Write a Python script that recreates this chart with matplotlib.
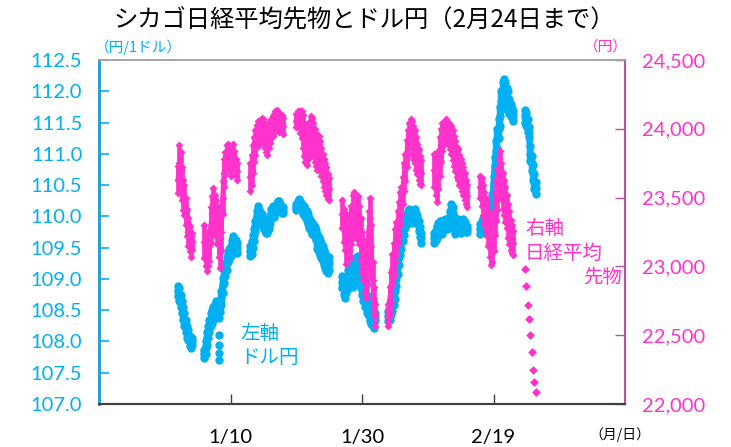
import numpy as np
import matplotlib
matplotlib.use("Agg")
import matplotlib.pyplot as plt
from matplotlib.ticker import FuncFormatter

plt.rcParams['font.family'] = ['Noto Sans CJK JP', 'DejaVu Sans']

# ---- data (x = time index, 5 steps per day; sessions separated by weekends) ----
# each step: typical level and half of the intrastep range
session_start = [60, 80, 115, 150, 185, 220, 255, 290, 324]

usd_w1 = [108.8, 108.75, 108.65, 108.55, 108.45, 108.35, 108.25, 108.15, 108.1, 108.0, 107.95, 108.0]
usd_w2 = [107.8, 107.9, 108.05, 108.15, 108.25, 108.35, 108.4, 108.45, 108.5, 108.55, 108.5, 108.45, 108.55,
          108.7, 108.9, 109.05, 109.15, 109.25, 109.35, 109.4, 109.45, 109.55, 109.6, 109.6, 109.55, 109.5]
usd_w3 = [109.45, 109.5, 109.6, 109.7, 109.85, 110.0, 110.1, 110.05, 110.0, 109.95, 109.9, 109.85, 109.8,
          109.8, 109.85, 109.95, 110.05, 110.1, 110.05, 110.1, 110.15, 110.2, 110.2, 110.15, 110.1, 110.1]
usd_w4 = [110.15, 110.2, 110.22, 110.2, 110.15, 110.1, 110.1, 110.05, 110.0, 109.95, 109.9, 109.85, 109.8,
          109.8, 109.75, 109.7, 109.6, 109.55, 109.5, 109.45, 109.4, 109.35, 109.3, 109.25, 109.2, 109.25]
usd_w5 = [108.95, 108.85, 108.8, 108.9, 109.0, 109.0, 109.05, 109.1, 109.05, 109.1, 109.15, 109.2, 109.25,
          109.2, 109.0, 108.9, 108.8, 108.7, 108.75, 108.6, 108.55, 108.45, 108.4, 108.35, 108.3, 108.4]
usd_w6 = [108.4, 108.45, 108.55, 108.6, 108.7, 108.8, 109.0, 109.2, 109.35, 109.5, 109.6, 109.7, 109.8,
          109.9, 109.95, 110.0, 110.05, 110.0, 109.95, 110.0, 110.05, 110.0, 109.95, 109.85, 109.75, 109.65]
usd_w7 = [109.65, 109.7, 109.75, 109.8, 109.85, 109.85, 109.8, 109.85, 109.9, 109.85, 109.85, 109.9, 110.0,
          110.1, 110.05, 109.9, 109.8, 109.85, 109.9, 109.85, 109.8, 109.85, 109.9, 109.85, 109.8, 109.8]
usd_w8 = [109.8, 109.85, 109.9, 109.9, 109.85, 109.8, 109.85, 109.9, 110.0, 110.2, 110.5, 110.8, 111.05,
          111.25, 111.4, 111.6, 111.85, 112.0, 112.05, 112.0, 111.9, 111.85, 111.75, 111.7, 111.65, 111.6]
usd_w9 = [111.6, 111.55, 111.45, 111.35, 111.0, 110.85, 110.7, 110.55, 110.45]

usd_r1 = [0.08, 0.1, 0.1, 0.1, 0.1, 0.1, 0.1, 0.1, 0.08, 0.08, 0.06, 0.05]
usd_r2 = [0.06, 0.1, 0.1, 0.1, 0.1, 0.1, 0.1, 0.1, 0.1, 0.1, 0.08, 0.08, 0.08,
          0.1, 0.12, 0.12, 0.1, 0.1, 0.08, 0.08, 0.08, 0.08, 0.08, 0.06, 0.08, 0.08]
usd_r3 = [0.08, 0.1, 0.1, 0.1, 0.08, 0.08, 0.06, 0.06, 0.06, 0.08, 0.08, 0.08, 0.06,
          0.06, 0.06, 0.06, 0.06, 0.06, 0.06, 0.06, 0.06, 0.05, 0.05, 0.05, 0.05, 0.05]
usd_r4 = [0.05, 0.05, 0.05, 0.05, 0.05, 0.06, 0.06, 0.06, 0.08, 0.08, 0.08, 0.08, 0.08,
          0.08, 0.08, 0.08, 0.12, 0.12, 0.12, 0.12, 0.12, 0.12, 0.12, 0.12, 0.1, 0.1]
usd_r5 = [0.1, 0.1, 0.1, 0.12, 0.15, 0.15, 0.15, 0.15, 0.18, 0.18, 0.18, 0.15, 0.12,
          0.12, 0.15, 0.15, 0.15, 0.15, 0.15, 0.15, 0.15, 0.12, 0.12, 0.1, 0.08, 0.06]
usd_r6 = [0.08, 0.1, 0.12, 0.12, 0.12, 0.12, 0.12, 0.12, 0.12, 0.12, 0.12, 0.1, 0.1,
          0.08, 0.08, 0.08, 0.06, 0.06, 0.06, 0.06, 0.06, 0.06, 0.06, 0.08, 0.08, 0.08]
usd_r7 = [0.08, 0.08, 0.1, 0.1, 0.08, 0.08, 0.08, 0.06, 0.06, 0.06, 0.06, 0.08, 0.08,
          0.1, 0.1, 0.1, 0.08, 0.08, 0.06, 0.06, 0.06, 0.06, 0.06, 0.06, 0.05, 0.05]
usd_r8 = [0.08, 0.08, 0.08, 0.08, 0.08, 0.08, 0.08, 0.08, 0.12, 0.15, 0.15, 0.15, 0.15,
          0.15, 0.15, 0.15, 0.15, 0.15, 0.15, 0.15, 0.15, 0.15, 0.12, 0.1, 0.08, 0.08]
usd_r9 = [0.1, 0.1, 0.1, 0.08, 0.12, 0.12, 0.12, 0.12, 0.1]

usd_spike_x = 91
usd_spike = [108.1, 107.95, 107.82, 107.7]

nk_w1 = [23630, 23750, 23700, 23600, 23520, 23480, 23400, 23320, 23250, 23200, 23150, 23180]
nk_w2 = [23180, 23120, 23080, 23100, 23150, 23300, 23380, 23450, 23400, 23350, 23300, 23200, 23100,
         23250, 23500, 23680, 23750, 23800, 23820, 23780, 23730, 23780, 23820, 23780, 23720, 23690]
nk_w3 = [23650, 23700, 23780, 23850, 23900, 23950, 23980, 23960, 23980, 24000, 23990, 23950, 23920,
         23900, 23940, 23980, 24000, 24020, 24040, 24060, 24080, 24060, 24040, 24050, 24040, 24020]
nk_w4 = [24060, 24080, 24070, 24050, 24030, 23980, 23920, 23880, 23850, 23880, 23950, 23980, 23960,
         23920, 23880, 23850, 23820, 23840, 23800, 23760, 23720, 23680, 23650, 23620, 23580, 23560]
nk_w5 = [23380, 23300, 23250, 23150, 23200, 23250, 23200, 23300, 23380, 23400, 23350, 23330, 23380,
         23300, 23200, 23100, 23050, 22950, 22900, 23000, 23250, 23350, 23150, 22900, 22750, 22650]
nk_w6 = [22650, 22750, 22850, 22980, 23050, 23150, 23200, 23280, 23350, 23420, 23480, 23550, 23650,
         23720, 23820, 23900, 23960, 23990, 23960, 23900, 23870, 23820, 23780, 23740, 23700, 23680]
nk_w7 = [23700, 23650, 23600, 23700, 23800, 23880, 23940, 23960, 23980, 24000, 23980, 23960, 23940,
         23920, 23880, 23840, 23800, 23760, 23740, 23700, 23680, 23650, 23620, 23580, 23540, 23510]
nk_w8 = [23580, 23540, 23480, 23420, 23380, 23340, 23280, 23200, 23130, 23150, 23250, 23380, 23480,
         23560, 23640, 23700, 23620, 23550, 23500, 23450, 23400, 23330, 23280, 23230, 23200, 23170]
nk_w9 = [22980, 22860, 22720, 22620, 22500, 22380, 22250, 22160, 22090]

nk_r1 = [100, 130, 130, 120, 110, 110, 100, 100, 100, 90, 80, 60]
nk_r2 = [120, 120, 110, 100, 110, 130, 130, 120, 120, 130, 140, 130, 110,
         130, 120, 100, 80, 80, 70, 70, 70, 70, 70, 60, 60, 60]
nk_r3 = [100, 110, 100, 90, 90, 80, 80, 80, 80, 80, 80, 90, 90,
         90, 80, 80, 70, 70, 70, 70, 60, 60, 60, 60, 60, 60]
nk_r4 = [50, 50, 60, 80, 100, 120, 120, 120, 110, 100, 100, 110, 120,
         120, 120, 120, 120, 110, 110, 100, 100, 100, 100, 100, 90, 80]
nk_r5 = [100, 120, 130, 130, 130, 130, 140, 140, 140, 140, 140, 130, 130,
         140, 150, 150, 150, 140, 130, 130, 150, 150, 150, 130, 100, 80]
nk_r6 = [80, 100, 110, 110, 120, 120, 120, 120, 120, 120, 100, 100, 100,
         100, 100, 90, 80, 80, 100, 120, 120, 120, 110, 110, 100, 90]
nk_r7 = [120, 130, 130, 140, 140, 120, 100, 80, 80, 70, 70, 80, 90,
         100, 110, 110, 110, 110, 110, 110, 100, 100, 100, 100, 90, 80]
nk_r8 = [80, 100, 110, 120, 120, 120, 130, 130, 120, 120, 140, 150, 150,
         150, 140, 140, 130, 130, 130, 130, 120, 120, 120, 110, 100, 90]
nk_r9 = [0, 0, 0, 0, 0, 0, 0, 0, 0]

x_ticks = [100, 200, 300]
x_labels = ['1/10', '1/30', '2/19']

usd_weeks = [usd_w1, usd_w2, usd_w3, usd_w4, usd_w5, usd_w6, usd_w7, usd_w8, usd_w9]
usd_rngs = [usd_r1, usd_r2, usd_r3, usd_r4, usd_r5, usd_r6, usd_r7, usd_r8, usd_r9]
nk_weeks = [nk_w1, nk_w2, nk_w3, nk_w4, nk_w5, nk_w6, nk_w7, nk_w8, nk_w9]
nk_rngs = [nk_r1, nk_r2, nk_r3, nk_r4, nk_r5, nk_r6, nk_r7, nk_r8, nk_r9]

BLUE = '#00B0F0'
PINK = '#FF33CC'
NUM_FONT = ['Lato', 'DejaVu Sans']

fig = plt.figure(figsize=(7.31, 4.47), dpi=100)
ax = fig.add_axes([99 / 731, 43 / 447, 526 / 731, 344 / 447])
ax2 = ax.twinx()


def draw_series(a, starts, levels, ranges, color, marker, ms, lw, join):
    for s, vals, rng in zip(starts, levels, ranges):
        x = s + np.arange(len(vals))
        c = np.array(vals, dtype=float)
        r = np.array(rng, dtype=float)
        if join:
            a.plot(x, c, '-', color=color, lw=lw, solid_capstyle='round', solid_joinstyle='round')
            a.vlines(x, c - r, c + r, colors=color, linewidth=lw, capstyle='round')
        a.plot(x, c - r, marker, color=color, ms=ms, mec='none', ls='none')
        a.plot(x, c + r, marker, color=color, ms=ms, mec='none', ls='none')
        a.plot(x, c, marker, color=color, ms=ms, mec='none', ls='none')


draw_series(ax, session_start, usd_weeks, usd_rngs, BLUE, 'o', 6.0, 4.6, True)
ax.plot([usd_spike_x] * len(usd_spike), usd_spike, 'o', color=BLUE, ms=6.0, mec='none', ls='none')

draw_series(ax2, session_start[:-1], nk_weeks[:-1], nk_rngs[:-1], PINK, 'D', 4.4, 3.4, True)
draw_series(ax2, session_start[-1:], nk_weeks[-1:], nk_rngs[-1:], PINK, 'D', 4.4, 3.4, False)

ax.set_xlim(0, 400)
ax.set_ylim(107.0, 112.5)
ax.set_yticks(np.arange(107.0, 112.51, 0.5))
ax.yaxis.set_major_formatter(FuncFormatter(lambda v, p: f'{v:.1f}'))
ax2.set_ylim(22000, 24500)
ax2.set_yticks(np.arange(22000, 24501, 500))
ax2.yaxis.set_major_formatter(FuncFormatter(lambda v, p: f'{int(v):,}'))

ax.set_xticks(x_ticks)
ax.set_xticklabels(x_labels)

ax.tick_params(axis='y', direction='in', length=7, width=1.2, color=BLUE,
               labelcolor=BLUE, labelsize=14.5, pad=12)
ax2.tick_params(axis='y', direction='in', length=7, width=1, color='#B5559F',
                labelcolor=PINK, labelsize=14.5, pad=12)
ax.tick_params(axis='x', direction='in', length=7, width=1, color='#404040',
               labelcolor='black', labelsize=14.5, pad=18)
for lab in ax.get_yticklabels() + ax2.get_yticklabels() + ax.get_xticklabels():
    lab.set_family(NUM_FONT)

for a in (ax, ax2):
    a.spines['left'].set_color('#2A9FD0')
    a.spines['left'].set_linewidth(2)
    a.spines['right'].set_color('#B5559F')
    a.spines['right'].set_linewidth(1.5)
    a.spines['top'].set_color('#A6A6A6')
    a.spines['top'].set_linewidth(1.2)
    a.spines['bottom'].set_color('#404040')
    a.spines['bottom'].set_linewidth(1.5)

fig.text(0.498, 1 - 21 / 447, 'シカゴ日経平均先物とドル円（2月24日まで）',
         ha='center', va='center', fontsize=17.5, color='black')
fig.text(95 / 731, 1 - 47 / 447, '（円/1ドル）', ha='left', va='center', fontsize=10.5, color=BLUE)
fig.text(628 / 731, 1 - 47 / 447, '（円）', ha='right', va='center', fontsize=10.5, color=PINK)
fig.text(620 / 731, 1 - 435 / 447, '（月/日）', ha='center', va='center', fontsize=10, color='black')

ax.text(0.268, 0.204, '左軸', transform=ax.transAxes, ha='left', va='center', fontsize=14, color=BLUE)
ax.text(0.268, 0.134, 'ドル円', transform=ax.transAxes, ha='left', va='center', fontsize=14, color=BLUE)
ax2.text(0.81, 0.51, '右軸', transform=ax2.transAxes, ha='left', va='center', fontsize=14, color=PINK)
ax2.text(0.81, 0.437, '日経平均', transform=ax2.transAxes, ha='left', va='center', fontsize=14, color=PINK)
ax2.text(0.995, 0.367, '先物', transform=ax2.transAxes, ha='right', va='center', fontsize=14, color=PINK)

fig.savefig('out.png', dpi=100)
